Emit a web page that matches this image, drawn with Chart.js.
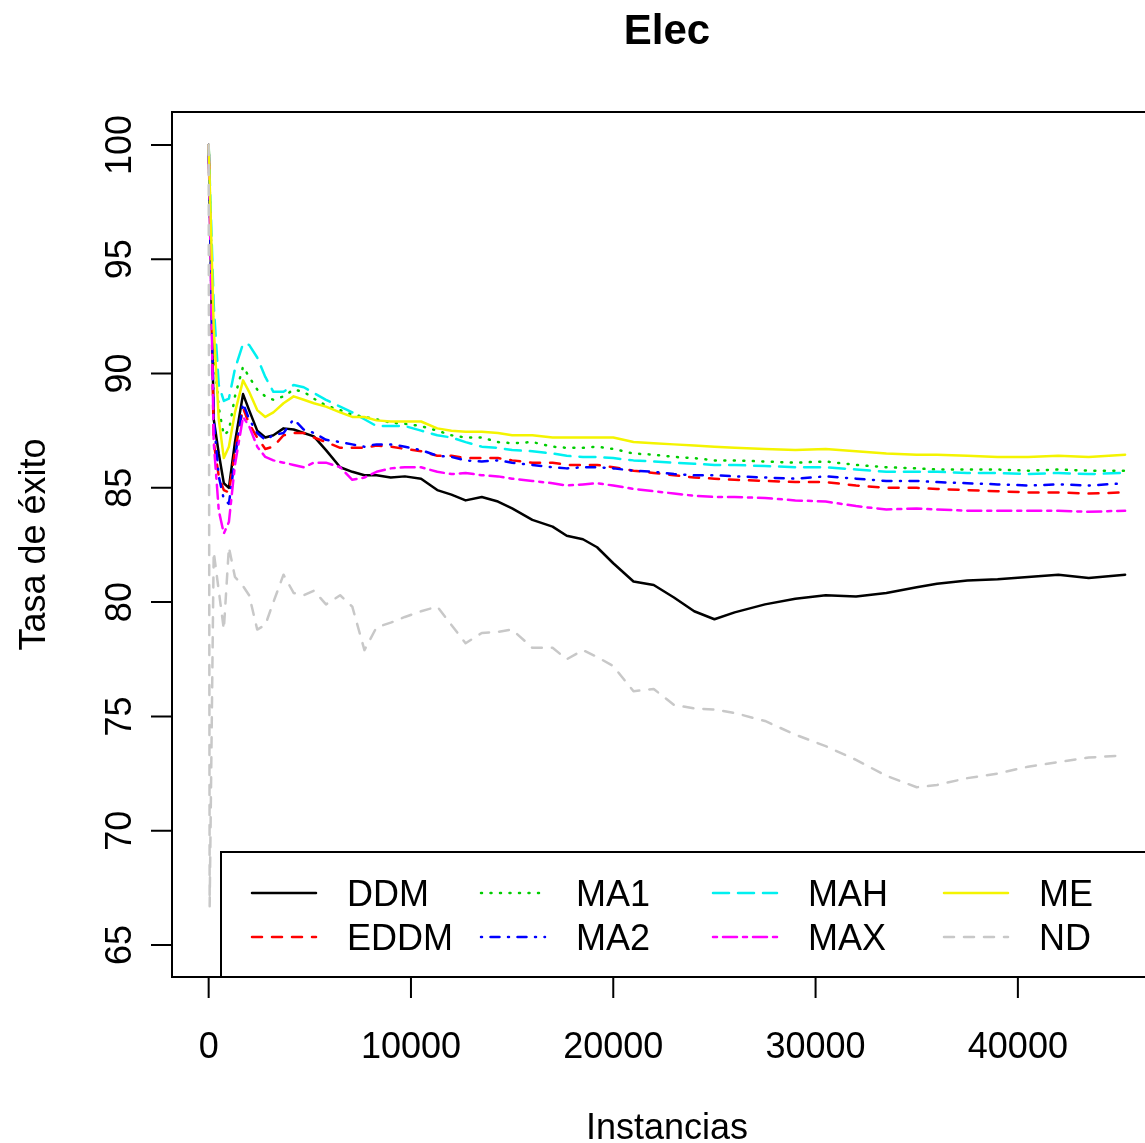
<!DOCTYPE html>
<html>
<head>
<meta charset="utf-8">
<script src="https://cdn.jsdelivr.net/npm/chart.js@4.4.1/dist/chart.umd.min.js"></script>
<style>
  html, body { margin: 0; padding: 0; background: #fff; overflow: hidden; }
  #chart { display: block; }
</style>
</head>
<body>
<canvas id="chart" width="1165" height="1143"></canvas>
<script>
// instances (x) shared by every series
const instances = [0, 50, 250, 500, 750, 1000, 1300, 1700, 2000, 2400, 2800, 3200, 3700, 4200, 4700, 5200, 5800, 6500, 7100, 7700,
  8300, 9000, 9700, 10500, 11300, 12000, 12700, 13500, 14300, 15000, 16000, 17000, 17700, 18500, 19200, 20000, 21000, 22000, 23000, 24000,
  25000, 26000, 27500, 29000, 30500, 32000, 33500, 35000, 36000, 37500, 39000, 40500, 42000, 43500, 45300];

const ddm = [100, null, 88, 86.5, 85.2, 85.0, 87.0, 89.1, 88.4, 87.5, 87.2, 87.3, 87.6, 87.55, 87.4, 87.25, 86.65, 85.9, 85.7, 85.55,
  85.55, 85.45, 85.5, 85.4, 84.9, 84.7, 84.45, 84.6, 84.4, 84.1, 83.6, 83.3, 82.9, 82.75, 82.4, 81.7, 80.9, 80.75, 80.2, 79.6,
  79.25, 79.55, 79.9, 80.15, 80.3, 80.25, 80.4, 80.65, 80.8, 80.95, 81.0, 81.1, 81.2, 81.05, 81.2];
const eddm = [100, null, 87, 85.5, 84.9, 84.8, 86.6, 88.5, 87.8, 87.2, 86.7, 86.8, 87.3, 87.4, 87.4, 87.2, 87.0, 86.75, 86.75, 86.75,
  86.85, 86.8, 86.7, 86.6, 86.4, 86.4, 86.3, 86.3, 86.3, 86.2, 86.1, 86.1, 86.0, 86.0, 86.0, 85.9, 85.75, 85.65, 85.55, 85.45,
  85.4, 85.35, 85.3, 85.25, 85.25, 85.1, 85.0, 85.0, 84.95, 84.9, 84.85, 84.8, 84.8, 84.75, 84.8];
const ma1 = [100, null, 91, 88.5, 87.3, 87.5, 89.0, 90.3, 89.85, 89.3, 89.0, 88.85, 89.0, 89.3, 89.2, 88.9, 88.6, 88.4, 88.2, 88.1,
  88.0, 87.85, 87.8, 87.7, 87.5, 87.3, 87.2, 87.2, 87.0, 86.95, 87.0, 86.8, 86.75, 86.75, 86.8, 86.7, 86.5, 86.45, 86.35, 86.3,
  86.2, 86.2, 86.15, 86.1, 86.15, 86.0, 85.9, 85.85, 85.8, 85.8, 85.8, 85.75, 85.8, 85.75, 85.75];
const ma2 = [100, null, 88, 85.5, 84.5, 84.3, 86.3, 88.7, 88.0, 87.4, 87.1, 87.3, 87.4, 88.0, 87.55, 87.4, 87.1, 87.0, 86.9, 86.8,
  86.9, 86.9, 86.8, 86.65, 86.4, 86.35, 86.2, 86.15, 86.2, 86.1, 86.0, 85.9, 85.85, 85.9, 85.9, 85.85, 85.75, 85.7, 85.6, 85.55,
  85.55, 85.5, 85.45, 85.4, 85.5, 85.4, 85.3, 85.3, 85.25, 85.2, 85.15, 85.1, 85.15, 85.1, 85.2];
const mah = [100, null, 93, 89.5, 88.8, 88.9, 90.2, 91.3, 91.25, 90.7, 89.85, 89.2, 89.2, 89.5, 89.4, 89.15, 88.85, 88.55, 88.3, 88.0,
  87.7, 87.7, 87.7, 87.5, 87.3, 87.2, 87.0, 86.8, 86.75, 86.65, 86.6, 86.5, 86.4, 86.35, 86.35, 86.3, 86.2, 86.15, 86.1, 86.05,
  86.0, 86.0, 85.95, 85.9, 85.9, 85.8, 85.7, 85.7, 85.7, 85.65, 85.65, 85.6, 85.65, 85.6, 85.65];
const maxS = [100, null, 87, 84, 83.0, 83.5, 86.0, 88.1, 87.7, 86.8, 86.35, 86.2, 86.1, 86.0, 85.9, 86.1, 86.1, 85.9, 85.35, 85.45,
  85.7, 85.85, 85.9, 85.9, 85.7, 85.6, 85.65, 85.55, 85.5, 85.4, 85.3, 85.2, 85.1, 85.15, 85.2, 85.1, 84.95, 84.85, 84.75, 84.65,
  84.6, 84.6, 84.55, 84.45, 84.4, 84.2, 84.05, 84.1, 84.05, 84.0, 84.0, 84.0, 84.0, 83.95, 84.0];
const me = [100, null, 92, 88, 86.3, 86.8, 88.3, 89.7, 89.2, 88.4, 88.1, 88.3, 88.7, 89.0, 88.85, 88.7, 88.55, 88.3, 88.1, 88.1,
  87.95, 87.9, 87.9, 87.9, 87.6, 87.5, 87.45, 87.45, 87.4, 87.3, 87.3, 87.2, 87.2, 87.2, 87.2, 87.2, 87.0, 86.95, 86.9, 86.85,
  86.8, 86.75, 86.7, 86.65, 86.7, 86.6, 86.5, 86.45, 86.45, 86.4, 86.35, 86.35, 86.4, 86.35, 86.45];
const nd = [100, 66.7, 82.2, 80.5, 78.8, 82.4, 81.1, 80.7, 80.3, 78.8, 79.0, 80.0, 81.2, 80.4, 80.3, 80.5, 79.9, 80.3, 79.8, 77.9,
  78.9, 79.1, 79.35, 79.6, 79.8, 79.0, 78.2, 78.65, 78.7, 78.8, 78.0, 78.0, 77.5, 77.9, 77.6, 77.2, 76.1, 76.2, 75.5, 75.35,
  75.3, 75.15, 74.8, 74.2, 73.7, 73.1, 72.4, 71.9, 72.0, 72.3, 72.5, 72.8, 73.0, 73.2, 73.3];

const xTicks = [0, 10000, 20000, 30000, 40000];
const yTicks = [65, 70, 75, 80, 85, 90, 95, 100];

const FONT = '"Liberation Sans", Arial, Helvetica, sans-serif';
const lw = 2.5;

function series(label, values, color, dash) {
  return {
    label: label,
    data: instances.map((x, i) => ({ x: x, y: values[i] })),
    borderColor: color,
    borderWidth: lw,
    borderDash: dash,
    borderCapStyle: 'round',
    borderJoinStyle: 'round',
    pointRadius: 0,
    tension: 0,
    fill: false,
    spanGaps: true
  };
}

const datasets = [
  series('DDM', ddm, '#000000', []),
  series('EDDM', eddm, '#ff0000', [10, 10]),
  series('MA1', ma1, '#00cd00', [1, 8.5]),
  series('MA2', ma2, '#0000ff', [1, 8.5, 9, 8.5]),
  series('MAH', mah, '#00f0f0', [16, 9]),
  series('MAX', maxS, '#ff00ff', [4, 6, 14, 6]),
  series('ME', me, '#f4f400', []),
  series('ND', nd, '#c8c8c8', [10, 10])
];
// R draws later series on top
datasets.forEach((d, i) => { d.order = datasets.length - i; });

const rStyle = {
  id: 'rStyle',
  afterDraw(chart) {
    const ctx = chart.ctx;
    const a = chart.chartArea;
    const xs = chart.scales.x, ys = chart.scales.y;
    ctx.save();
    ctx.strokeStyle = '#000';
    ctx.fillStyle = '#000';
    ctx.lineWidth = 2;
    ctx.setLineDash([]);

    // box
    ctx.strokeRect(a.left, a.top, a.right - a.left, a.bottom - a.top);

    // x axis
    const x0 = xs.getPixelForValue(xTicks[0]);
    const x1 = xs.getPixelForValue(xTicks[xTicks.length - 1]);
    ctx.beginPath();
    ctx.moveTo(x0, a.bottom); ctx.lineTo(x1, a.bottom);
    xs.ticks.forEach(t => {
      const px = xs.getPixelForValue(t.value);
      ctx.moveTo(px, a.bottom); ctx.lineTo(px, a.bottom + 21);
    });
    // y axis
    const y0 = ys.getPixelForValue(yTicks[0]);
    const y1 = ys.getPixelForValue(yTicks[yTicks.length - 1]);
    ctx.moveTo(a.left, y0); ctx.lineTo(a.left, y1);
    ys.ticks.forEach(t => {
      const py = ys.getPixelForValue(t.value);
      ctx.moveTo(a.left, py); ctx.lineTo(a.left - 21, py);
    });
    ctx.stroke();

    ctx.font = '36px ' + FONT;
    ctx.textAlign = 'center';
    ctx.textBaseline = 'alphabetic';
    xs.ticks.forEach(t => {
      ctx.fillText(String(t.value), xs.getPixelForValue(t.value), 1058);
    });
    ys.ticks.forEach(t => {
      ctx.save();
      ctx.translate(131, ys.getPixelForValue(t.value));
      ctx.rotate(-Math.PI / 2);
      ctx.fillText(String(t.value), 0, 0);
      ctx.restore();
    });

    // titles
    const cx = (a.left + a.right) / 2;
    ctx.fillText('Instancias', cx, 1139);
    ctx.save();
    ctx.translate(45, (a.top + a.bottom) / 2);
    ctx.rotate(-Math.PI / 2);
    ctx.fillText('Tasa de éxito', 0, 0);
    ctx.restore();
    ctx.font = 'bold 42px ' + FONT;
    ctx.fillText('Elec', cx, 44);

    // legend (column-major, 4 columns x 2 rows)
    const lgLeft = 221, lgTop = 852;
    ctx.fillStyle = '#fff';
    ctx.fillRect(lgLeft, lgTop, a.right - lgLeft, a.bottom - lgTop);
    ctx.strokeStyle = '#000';
    ctx.lineWidth = 2;
    ctx.strokeRect(lgLeft, lgTop, a.right - lgLeft, a.bottom - lgTop);
    ctx.font = '36px ' + FONT;
    ctx.textAlign = 'left';
    const colX = [252, 481, 713, 944];
    const rowY = [893, 937];
    chart.data.datasets.forEach((d, i) => {
      const cx0 = colX[Math.floor(i / 2)];
      const ry = rowY[i % 2];
      ctx.strokeStyle = d.borderColor;
      ctx.lineWidth = lw;
      ctx.lineCap = 'round';
      ctx.setLineDash(d.borderDash);
      ctx.beginPath();
      ctx.moveTo(cx0, ry); ctx.lineTo(cx0 + 64, ry);
      ctx.stroke();
      ctx.setLineDash([]);
      ctx.fillStyle = '#000';
      ctx.fillText(d.label, cx0 + 95, ry + 13);
    });
    ctx.restore();
  }
};

function renderChart() {
  const ctx = document.getElementById('chart').getContext('2d');
  new Chart(ctx, {
    type: 'line',
    data: { datasets: datasets },
    options: {
      responsive: false,
      animation: false,
      devicePixelRatio: 1,
      layout: { padding: { left: 172, top: 112, right: 3, bottom: 166 } },
      plugins: { legend: { display: false }, tooltip: { enabled: false }, title: { display: false } },
      scales: {
        x: {
          type: 'linear', min: -1812, max: 47124,
          afterBuildTicks: s => { s.ticks = xTicks.map(v => ({ value: v })); },
          afterFit: s => { s.height = 0; },
          ticks: { display: false }, grid: { display: false, drawTicks: false }, border: { display: false }
        },
        y: {
          type: 'linear', min: 63.6, max: 101.44,
          afterBuildTicks: s => { s.ticks = yTicks.map(v => ({ value: v })); },
          afterFit: s => { s.width = 0; },
          ticks: { display: false }, grid: { display: false, drawTicks: false }, border: { display: false }
        }
      }
    },
    plugins: [rStyle]
  });
}
renderChart();
</script>
</body>
</html>
